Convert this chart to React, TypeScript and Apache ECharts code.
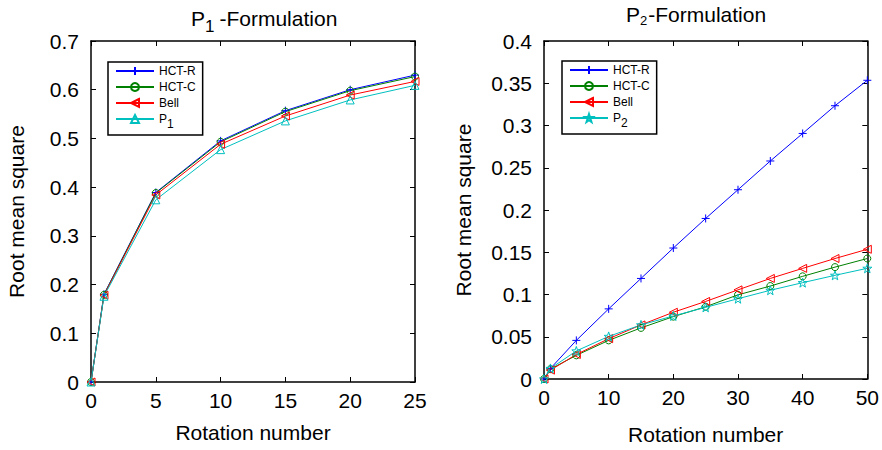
import React, { useEffect, useRef } from "react";
import * as echarts from "echarts";

const FONT = "Liberation Sans, Arial, Helvetica, sans-serif";

// ---- Data: P1-Formulation ----
const p1Rotations = [0, 1, 5, 10, 15, 20, 25];
const p1HctR = [0, 0.18, 0.389, 0.495, 0.557, 0.6, 0.63];
const p1HctC = [0, 0.179, 0.388, 0.493, 0.555, 0.598, 0.627];
const p1Bell = [0, 0.178, 0.384, 0.488, 0.546, 0.589, 0.617];
const p1P1 = [0, 0.176, 0.374, 0.477, 0.536, 0.579, 0.609];

// ---- Data: P2-Formulation ----
const p2Rotations = [0, 1, 5, 10, 15, 20, 25, 30, 35, 40, 45, 50];
const p2HctR = [0, 0.0125, 0.0457, 0.083, 0.119, 0.155, 0.19, 0.224, 0.258, 0.2906, 0.3234, 0.3535];
const p2HctC = [0, 0.0117, 0.028, 0.0457, 0.0605, 0.0738, 0.0855, 0.0996, 0.11, 0.1215, 0.1324, 0.1426];
const p2Bell = [0, 0.0105, 0.029, 0.0477, 0.064, 0.079, 0.0918, 0.1055, 0.119, 0.1309, 0.1426, 0.1535];
const p2P2 = [0, 0.0125, 0.0332, 0.0504, 0.064, 0.0746, 0.0848, 0.095, 0.105, 0.114, 0.1227, 0.131];

const xTicks1 = { min: 0, max: 25, interval: 5 };
const yTicks1 = { min: 0, max: 0.7, interval: 0.1 };
const xTicks2 = { min: 0, max: 50, interval: 10 };
const yTicks2 = { min: 0, max: 0.4, interval: 0.05 };

const legendNames1 = ["HCT-R", "HCT-C", "Bell", "P1"];
const legendNames2 = ["HCT-R", "HCT-C", "Bell", "P2"];

const BLUE = "#0000ff";
const GREEN = "#008000";
const RED = "#ff0000";
const CYAN = "#00bfbf";

const PLUS = "path://M0,-1L0,1M-1,0L1,0";
const LTRI = "path://M1,-1L-1,0L1,1Z";
const UTRI = "path://M0,-1L1,0.8L-1,0.8Z";
const STAR =
  "path://M0,-1L0.235,-0.324L0.951,-0.309L0.38,0.124L0.588,0.809L0,0.4L-0.588,0.809L-0.38,0.124L-0.951,-0.309L-0.235,-0.324Z";

function pairs(xs: number[], ys: number[]) {
  return xs.map((x, i) => [x, ys[i]]);
}

function mkSeries(name: string, xs: number[], ys: number[], color: string, symbol: string, size: number, gi: number) {
  return {
    type: "line",
    name,
    xAxisIndex: gi * 2,
    yAxisIndex: gi * 2,
    data: pairs(xs, ys),
    symbol,
    symbolSize: size,
    showAllSymbol: true,
    clip: false,
    lineStyle: { color, width: 1 },
    itemStyle: { color: "rgba(0,0,0,0)", borderColor: color, borderWidth: 1 },
    emphasis: { disabled: true },
  };
}

function axisPair(gi: number, ticks: { min: number; max: number; interval: number }, isX: boolean, nameGap: number) {
  const common = {
    gridIndex: gi,
    type: "value",
    min: ticks.min,
    max: ticks.max,
    interval: ticks.interval,
    splitLine: { show: false },
    axisLine: { show: true, onZero: false, lineStyle: { color: "#000", width: 1.5 } },
    axisTick: { show: true, inside: true, length: 5, lineStyle: { color: "#000", width: 1 } },
  };
  const main = {
    ...common,
    position: isX ? "bottom" : "left",
    axisLabel: { fontSize: 21, color: "#000", fontFamily: FONT, margin: isX ? 8 : 12 },
    name: isX ? "Rotation number" : "Root mean square",
    nameLocation: "middle",
    nameGap,
    nameTextStyle: { fontSize: 21, color: "#000", fontFamily: FONT },
  };
  const opp = {
    ...common,
    position: isX ? "top" : "right",
    axisLabel: { show: false },
  };
  return [main, opp];
}

const legendRich = {
  n: { fontSize: 12, lineHeight: 12, verticalAlign: "top", color: "#000", fontFamily: FONT },
  sub: { fontSize: 12, lineHeight: 12, verticalAlign: "top", color: "#000", fontFamily: FONT, padding: [5, 0, 0, 0] },
};

function legendFmt(name: string) {
  if (name === "P1") return "{n|P}{sub|1}";
  if (name === "P2") return "{n|P}{sub|2}";
  return "{n|" + name + "}";
}

function mkLegend(left: number, top: number, names: string[]) {
  return {
    data: names,
    orient: "vertical",
    left,
    top,
    borderColor: "#000",
    borderWidth: 1.5,
    padding: [3, 7, 5, 7],
    itemWidth: 38,
    itemHeight: 10,
    itemGap: 4,
    selectedMode: false,
    formatter: legendFmt,
    textStyle: { fontSize: 12, color: "#000", fontFamily: FONT, rich: legendRich },
  };
}

function titleRich(subSize: number, subPad: number, subRight: number) {
  return {
    n: { fontSize: 21, lineHeight: 21, verticalAlign: "top", color: "#000", fontFamily: FONT, fontWeight: "normal" },
    s: {
      fontSize: subSize,
      lineHeight: 21,
      verticalAlign: "top",
      color: "#000",
      fontFamily: FONT,
      fontWeight: "normal",
      padding: [subPad, subRight, 0, 0],
    },
  };
}

export default function App() {
  const ref = useRef<HTMLDivElement>(null);
  useEffect(() => {
    if (!ref.current) return;
    const chart = echarts.init(ref.current, undefined, { renderer: "svg" });
    const xa = [...axisPair(0, xTicks1, true, 40), ...axisPair(1, xTicks2, true, 45)];
    const ya = [...axisPair(0, yTicks1, false, 64), ...axisPair(1, yTicks2, false, 70)];
    chart.setOption({
      animation: false,
      backgroundColor: "#fff",
      textStyle: { fontFamily: FONT },
      title: [
        {
          text: "{n|P}{s|1}{n|-Formulation}",
          left: 191,
          top: 8,
          padding: 0,
          textStyle: { fontWeight: "normal", rich: titleRich(17, 10, 5) },
        },
        {
          text: "{n|P}{s|2}{n|-Formulation}",
          left: 626,
          top: 4,
          padding: 0,
          textStyle: { fontWeight: "normal", rich: titleRich(13, 10, 1) },
        },
      ],
      legend: [mkLegend(108, 62, legendNames1), mkLegend(562, 61, legendNames2)],
      grid: [
        { left: 91, top: 41, width: 324, height: 341, containLabel: false },
        { left: 544, top: 41, width: 324, height: 341, containLabel: false },
      ],
      xAxis: xa,
      yAxis: ya,
      series: [
        mkSeries("HCT-R", p1Rotations, p1HctR, BLUE, PLUS, 8, 0),
        mkSeries("HCT-C", p1Rotations, p1HctC, GREEN, "circle", 7, 0),
        mkSeries("Bell", p1Rotations, p1Bell, RED, LTRI, 8, 0),
        mkSeries("P1", p1Rotations, p1P1, CYAN, UTRI, 8, 0),
        mkSeries("HCT-R", p2Rotations, p2HctR, BLUE, PLUS, 8, 1),
        mkSeries("HCT-C", p2Rotations, p2HctC, GREEN, "circle", 7, 1),
        mkSeries("Bell", p2Rotations, p2Bell, RED, LTRI, 8, 1),
        mkSeries("P2", p2Rotations, p2P2, CYAN, STAR, 9, 1),
      ],
    });
    return () => chart.dispose();
  }, []);
  return (
    <div
      ref={ref}
      style={{ position: "absolute", left: 0, top: 0, width: 882, height: 450, background: "#fff" }}
    />
  );
}
